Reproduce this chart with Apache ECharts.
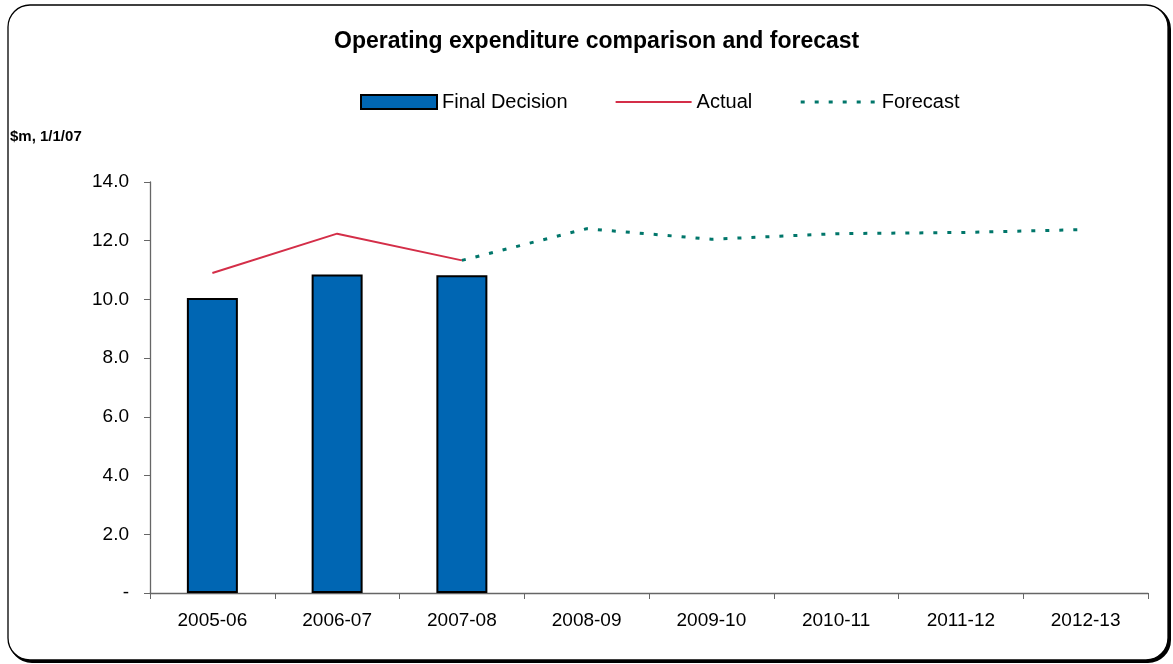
<!DOCTYPE html>
<html>
<head>
<meta charset="utf-8">
<title>Operating expenditure comparison and forecast</title>
<script src="https://cdn.jsdelivr.net/npm/echarts@6/dist/echarts.min.js"></script>
<style>
  html, body { margin: 0; padding: 0; background: #ffffff; }
  #chart { width: 1173px; height: 664px; }
</style>
</head>
<body>
<div id="chart"></div>
<script>
// Financial years on the category axis
const categories = ['2005-06', '2006-07', '2007-08', '2008-09', '2009-10', '2010-11', '2011-12', '2012-13'];

// $m, 1/1/07
const finalDecision = [10.05, 10.85, 10.82, null, null, null, null, null];
const actual = [10.90, 12.24, 11.33, null, null, null, null, null];
const forecast = [null, null, 11.33, 12.41, 12.05, 12.24, 12.28, 12.38];

// Value axis ticks
const yMin = 0;
const yMax = 14;
const yStep = 2;

const FONT = '"Liberation Sans", Arial, sans-serif';
const ACTUAL_COLOR = '#D42E48';
const FORECAST_COLOR = '#00766A';

const chart = echarts.init(document.getElementById('chart'), null, { renderer: 'canvas' });

chart.setOption({
  backgroundColor: '#ffffff',
  animation: false,
  textStyle: { fontFamily: FONT, color: '#000' },
  graphic: [
    // drop shadow of the rounded frame
    {
      type: 'rect', z: -20,
      shape: { x: 10, y: 7, width: 1160, height: 655, r: 22 },
      style: { fill: '#000', stroke: '#000', lineWidth: 2 }
    },
    // rounded frame
    {
      type: 'rect', z: -10,
      shape: { x: 8, y: 5, width: 1160, height: 655, r: 22 },
      style: { fill: '#ffffff', stroke: '#000', lineWidth: 1.3 }
    },
    {
      type: 'text', left: 10, top: 129,
      style: { text: '$m, 1/1/07', font: 'bold 15px ' + FONT, fill: '#000' }
    }
  ],
  title: {
    text: 'Operating expenditure comparison and forecast',
    left: 329, top: 25,
    textStyle: { fontFamily: FONT, fontSize: 23, fontWeight: 'bold', color: '#000' }
  },
  legend: {
    left: 360, top: 92, padding: 0,
    itemWidth: 76, itemHeight: 14, itemGap: 47,
    textStyle: { fontFamily: FONT, fontSize: 20, color: '#000' },
    data: [
      { name: 'Final Decision', icon: 'rect', itemStyle: { color: '#0066B3', borderColor: '#000', borderWidth: 2 } },
      { name: 'Actual', itemStyle: { opacity: 0 }, lineStyle: { color: ACTUAL_COLOR, width: 2, opacity: 1 } },
      { name: 'Forecast', itemStyle: { opacity: 0 }, lineStyle: { color: FORECAST_COLOR, width: 3, type: [4, 10], opacity: 1 } }
    ]
  },
  grid: { left: 150, right: 25, top: 182, bottom: 71, containLabel: false },
  xAxis: {
    type: 'category',
    data: categories,
    boundaryGap: true,
    axisLine: { lineStyle: { color: '#666', width: 1.3 } },
    axisTick: { show: true, length: 6, inside: false, lineStyle: { color: '#666' } },
    axisLabel: { fontFamily: FONT, fontSize: 19, color: '#000', margin: 18 },
    splitLine: { show: false }
  },
  yAxis: {
    type: 'value',
    min: yMin, max: yMax, interval: yStep,
    axisLine: { show: true, lineStyle: { color: '#666', width: 1.3 } },
    axisTick: { show: true, length: 6, lineStyle: { color: '#666' } },
    axisLabel: {
      fontFamily: FONT, fontSize: 19, color: '#000', margin: 21,
      formatter: v => (v === 0 ? '-' : v.toFixed(1))
    },
    splitLine: { show: false }
  },
  series: [
    {
      name: 'Final Decision',
      type: 'bar',
      data: finalDecision,
      barWidth: 51,
      itemStyle: { color: '#0066B3', borderColor: '#000', borderWidth: 2 }
    },
    {
      name: 'Actual',
      type: 'line',
      data: actual,
      symbol: 'none',
      lineStyle: { color: ACTUAL_COLOR, width: 2 },
      itemStyle: { color: ACTUAL_COLOR }
    },
    {
      name: 'Forecast',
      type: 'line',
      data: forecast,
      symbol: 'none',
      lineStyle: { color: FORECAST_COLOR, width: 3, type: [4, 10], cap: 'butt' },
      itemStyle: { color: FORECAST_COLOR }
    }
  ]
});
</script>
</body>
</html>
